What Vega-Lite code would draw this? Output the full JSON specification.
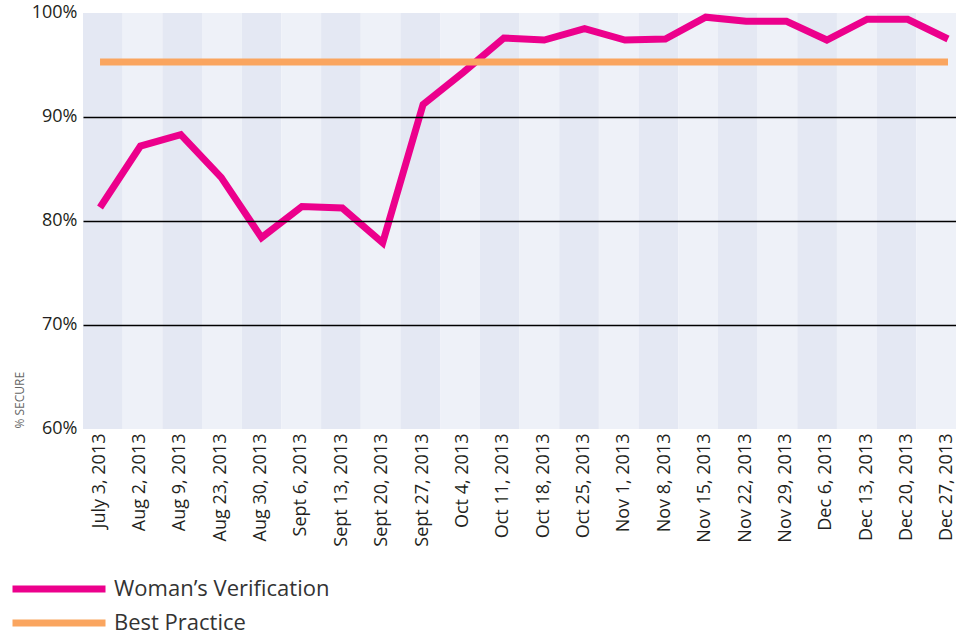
{
  "$schema": "https://vega.github.io/schema/vega-lite/v6.json",
  "width": 873,
  "height": 416,
  "autosize": {"type": "none"},
  "padding": {"left": 83, "top": 13, "right": 0, "bottom": 208},
  "config": {"view": {"stroke": null}, "font": "Open Sans"},
  "data": {"values": [
    {"date": "July 3, 2013", "series": "Woman’s Verification", "value": 81.3},
    {"date": "Aug 2, 2013", "series": "Woman’s Verification", "value": 87.2},
    {"date": "Aug 9, 2013", "series": "Woman’s Verification", "value": 88.3},
    {"date": "Aug 23, 2013", "series": "Woman’s Verification", "value": 84.2},
    {"date": "Aug 30, 2013", "series": "Woman’s Verification", "value": 78.4},
    {"date": "Sept 6, 2013", "series": "Woman’s Verification", "value": 81.4},
    {"date": "Sept 13, 2013", "series": "Woman’s Verification", "value": 81.25},
    {"date": "Sept 20, 2013", "series": "Woman’s Verification", "value": 77.9},
    {"date": "Sept 27, 2013", "series": "Woman’s Verification", "value": 91.2},
    {"date": "Oct 4, 2013", "series": "Woman’s Verification", "value": 94.3},
    {"date": "Oct 11, 2013", "series": "Woman’s Verification", "value": 97.6},
    {"date": "Oct 18, 2013", "series": "Woman’s Verification", "value": 97.4},
    {"date": "Oct 25, 2013", "series": "Woman’s Verification", "value": 98.5},
    {"date": "Nov 1, 2013", "series": "Woman’s Verification", "value": 97.4},
    {"date": "Nov 8, 2013", "series": "Woman’s Verification", "value": 97.5},
    {"date": "Nov 15, 2013", "series": "Woman’s Verification", "value": 99.6},
    {"date": "Nov 22, 2013", "series": "Woman’s Verification", "value": 99.2},
    {"date": "Nov 29, 2013", "series": "Woman’s Verification", "value": 99.2},
    {"date": "Dec 6, 2013", "series": "Woman’s Verification", "value": 97.4},
    {"date": "Dec 13, 2013", "series": "Woman’s Verification", "value": 99.4},
    {"date": "Dec 20, 2013", "series": "Woman’s Verification", "value": 99.4},
    {"date": "Dec 27, 2013", "series": "Woman’s Verification", "value": 97.5},
    {"date": "July 3, 2013", "series": "Best Practice", "value": 95.3},
    {"date": "Aug 2, 2013", "series": "Best Practice", "value": 95.3},
    {"date": "Aug 9, 2013", "series": "Best Practice", "value": 95.3},
    {"date": "Aug 23, 2013", "series": "Best Practice", "value": 95.3},
    {"date": "Aug 30, 2013", "series": "Best Practice", "value": 95.3},
    {"date": "Sept 6, 2013", "series": "Best Practice", "value": 95.3},
    {"date": "Sept 13, 2013", "series": "Best Practice", "value": 95.3},
    {"date": "Sept 20, 2013", "series": "Best Practice", "value": 95.3},
    {"date": "Sept 27, 2013", "series": "Best Practice", "value": 95.3},
    {"date": "Oct 4, 2013", "series": "Best Practice", "value": 95.3},
    {"date": "Oct 11, 2013", "series": "Best Practice", "value": 95.3},
    {"date": "Oct 18, 2013", "series": "Best Practice", "value": 95.3},
    {"date": "Oct 25, 2013", "series": "Best Practice", "value": 95.3},
    {"date": "Nov 1, 2013", "series": "Best Practice", "value": 95.3},
    {"date": "Nov 8, 2013", "series": "Best Practice", "value": 95.3},
    {"date": "Nov 15, 2013", "series": "Best Practice", "value": 95.3},
    {"date": "Nov 22, 2013", "series": "Best Practice", "value": 95.3},
    {"date": "Nov 29, 2013", "series": "Best Practice", "value": 95.3},
    {"date": "Dec 6, 2013", "series": "Best Practice", "value": 95.3},
    {"date": "Dec 13, 2013", "series": "Best Practice", "value": 95.3},
    {"date": "Dec 20, 2013", "series": "Best Practice", "value": 95.3},
    {"date": "Dec 27, 2013", "series": "Best Practice", "value": 95.3}
  ]},
  "layer": [
    {
      "transform": [
        {"filter": "datum.series === 'Best Practice'"},
        {"window": [{"op": "row_number", "as": "i"}]}
      ],
      "mark": {"type": "rect"},
      "encoding": {
        "x": {"field": "date", "type": "ordinal", "sort": null,
              "scale": {"type": "band", "paddingInner": 0, "paddingOuter": 0}, "axis": null},
        "fill": {"condition": {"test": "datum.i % 2 == 1", "value": "#E4E8F3"}, "value": "#EEF1F8"}
      }
    },
    {
      "mark": {"type": "line", "strokeWidth": 7, "strokeJoin": "miter", "strokeCap": "butt"},
      "encoding": {
        "x": {"field": "date", "type": "ordinal", "sort": null,
              "scale": {"type": "point", "padding": 0.31, "align": 0.68},
              "axis": {"title": null, "labelAngle": -90, "labelFontSize": 18, "labelColor": "#231F20",
                       "labelPadding": 4, "labelLimit": 300, "labelOffset": -1,
                       "domain": false, "ticks": false, "grid": false}},
        "y": {"field": "value", "type": "quantitative",
              "scale": {"domain": [60, 100], "nice": false, "zero": false},
              "axis": {"values": [60, 70, 80, 90, 100], "labelExpr": "datum.value + '%'",
                       "grid": true,
                       "gridColor": {"condition": {"test": "datum.value == 60 || datum.value == 100", "value": "transparent"}, "value": "#000000"},
                       "gridWidth": 1.5, "domain": false, "ticks": false,
                       "labelFontSize": 18, "labelColor": "#231F20", "labelPadding": 6,
                       "labelBaseline": "alphabetic", "labelOffset": 4,
                       "title": "% SECURE", "titleFontSize": 12, "titleColor": "#666666",
                       "titleFontWeight": "normal", "titleAngle": 270, "titleAlign": "left",
                       "titleBaseline": "middle", "titleX": -64, "titleY": 415, "zindex": 1}},
        "color": {"field": "series", "type": "nominal",
                  "scale": {"domain": ["Woman’s Verification", "Best Practice"], "range": ["#EC008C", "#FAA55F"]},
                  "legend": {"title": null, "orient": "none", "legendX": -74, "legendY": 565,
                             "padding": 0, "symbolType": "stroke", "symbolSize": 8649,
                             "symbolStrokeWidth": 7, "clipHeight": 22, "rowPadding": 12,
                             "labelOffset": 5, "labelFontSize": 22, "labelColor": "#333333",
                             "labelFont": "Open Sans", "labelLimit": 400}}
      }
    }
  ],
  "resolve": {"scale": {"x": "independent"}}
}
